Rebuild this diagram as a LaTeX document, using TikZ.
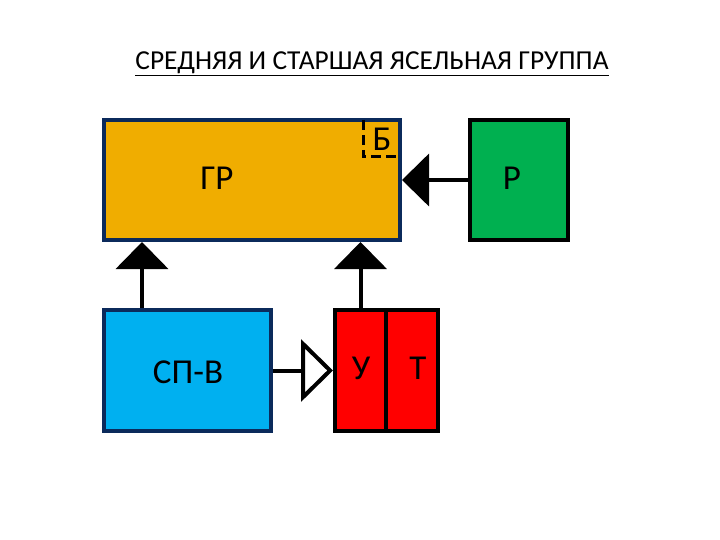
\documentclass[tikz,border=0pt]{standalone}
\usepackage{fontspec}
\setmainfont{Carlito}
\usetikzlibrary{arrows.meta}
\definecolor{navy}{HTML}{0B2A5B}
\definecolor{orng}{HTML}{F0AD00}
\definecolor{grn}{HTML}{00B050}
\definecolor{sky}{HTML}{00B0F0}
\definecolor{rd}{HTML}{FF0000}
\begin{document}
\begin{tikzpicture}[x=1pt,y=-1pt,
  box/.style={draw, line width=4pt, rectangle, inner sep=0pt},
  lbl/.style={font=\fontsize{35}{40}\selectfont, inner sep=0pt},
  solidarrow/.style={line width=4pt, -{Triangle[width=52pt,length=27pt]}},
  openarrow/.style={line width=4pt, -{Triangle[open,fill=white,width=62pt,length=32pt]}},
  bdash/.style={line width=3pt, dash pattern=on 10pt off 5pt}
]
\useasboundingbox (0,0) rectangle (720,540);
\node[font=\fontsize{27.4}{30}\selectfont] (title) at (372,64) {\underline{СРЕДНЯЯ И СТАРШАЯ ЯСЕЛЬНАЯ ГРУППА}};
\node[box, draw=navy, fill=orng, minimum width=296pt, minimum height=120pt] (GR) at (252,180) {};
\node[lbl] (GRt) at (217,178) {ГР};
\coordinate (b1) at (363,120);
\coordinate (b2) at (363,157);
\coordinate (b3) at (396,157);
\draw[bdash] (b1) -- (b2) -- (b3);
\node[lbl] (B) at (382,139) {Б};
\node[box, draw=black, fill=grn, minimum width=98pt, minimum height=120pt] (P) at (519,180) {};
\node[lbl] (Pt) at (512,178) {Р};
\node[box, draw=navy, fill=sky, minimum width=167pt, minimum height=121pt] (SP) at (187.5,370.5) {};
\node[lbl] (SPt) at (188,372) {СП-В};
\node[box, draw=black, fill=rd, minimum width=51pt, minimum height=121pt] (U) at (360.5,370.5) {};
\node[box, draw=black, fill=rd, minimum width=52pt, minimum height=121pt] (T) at (412,370.5) {};
\node[lbl] (Ut) at (361,368) {У};
\node[lbl] (Tt) at (418,368) {Т};
\draw[solidarrow] (P.west) -- (GR.east);
\draw[solidarrow] ([xshift=-45.5pt]SP.north) -- ([xshift=-45.5pt]SP.north |- GR.south);
\draw[solidarrow] (U.north) -- (U.north |- GR.south);
\draw[openarrow] (SP.east) -- (U.west);
\end{tikzpicture}
\end{document}
